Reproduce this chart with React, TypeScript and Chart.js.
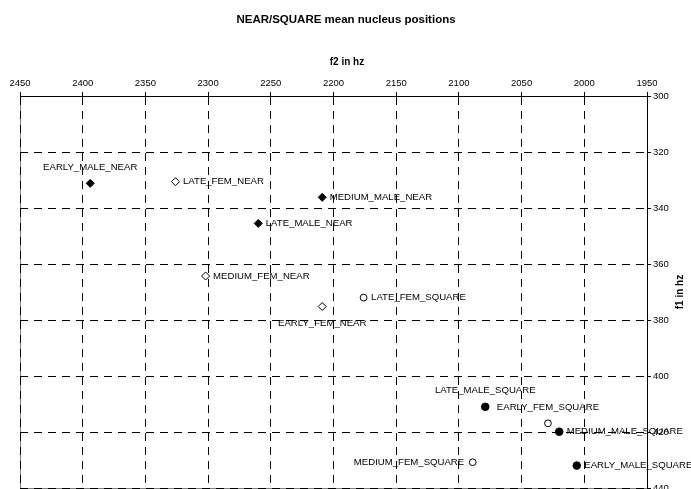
import React, { useEffect, useRef } from "react";
import { Chart, registerables } from "chart.js";

Chart.register(...registerables);

const chartTitle = "NEAR/SQUARE mean nucleus positions";
const xTitle = "f2 in hz";
const yTitle = "f1 in hz";

const pointNames = [
  "EARLY_MALE_NEAR",
  "LATE_FEM_NEAR",
  "MEDIUM_MALE_NEAR",
  "LATE_MALE_NEAR",
  "MEDIUM_FEM_NEAR",
  "EARLY_FEM_NEAR",
  "LATE_FEM_SQUARE",
  "LATE_MALE_SQUARE",
  "EARLY_FEM_SQUARE",
  "MEDIUM_MALE_SQUARE",
  "MEDIUM_FEM_SQUARE",
  "EARLY_MALE_SQUARE",
];
const f2Values = [2394, 2326, 2209, 2260, 2302, 2209, 2176, 2079, 2029, 2020, 2089, 2006];
const f1Values = [331.2, 330.6, 336.2, 345.5, 364.3, 375.2, 372.0, 411.0, 416.9, 419.9, 430.8, 432.0];
const labelPlacement = [
  "above", "right", "right", "right", "right", "below",
  "right", "above", "above", "right", "left", "right",
];

const f2Ticks = [2450, 2400, 2350, 2300, 2250, 2200, 2150, 2100, 2050, 2000, 1950];
const f1Ticks = [300, 320, 340, 360, 380, 400, 420, 440];

const FONT = "'Liberation Sans', Arial, sans-serif";

const decorPlugin = {
  id: "decor",
  beforeDraw(chart: any) {
    const { ctx, chartArea } = chart;
    ctx.save();
    ctx.strokeStyle = "#808080";
    ctx.lineWidth = 1;
    ctx.strokeRect(
      Math.round(chartArea.left) + 0.5,
      Math.round(chartArea.top) + 0.5,
      Math.round(chartArea.right - chartArea.left),
      Math.round(chartArea.bottom - chartArea.top)
    );
    ctx.restore();
  },
  afterDatasetsDraw(chart: any) {
    const { ctx } = chart;
    const meta = chart.getDatasetMeta(0);
    ctx.save();
    ctx.fillStyle = "#000";
    ctx.font = `9.6px ${FONT}`;
    ctx.textBaseline = "middle";
    meta.data.forEach((el: any, i: number) => {
      const { x, y } = el;
      const name = pointNames[i];
      const place = labelPlacement[i];
      if (place === "right") {
        ctx.textAlign = "left";
        ctx.fillText(name, x + 7.5, y);
      } else if (place === "left") {
        ctx.textAlign = "right";
        ctx.fillText(name, x - 8.5, y);
      } else if (place === "above") {
        ctx.textAlign = "center";
        ctx.fillText(name, x, y - 16);
      } else {
        ctx.textAlign = "center";
        ctx.fillText(name, x, y + 17);
      }
    });
    ctx.restore();
  },
  afterDraw(chart: any) {
    const { ctx, chartArea } = chart;
    ctx.save();
    ctx.fillStyle = "#000";
    ctx.textAlign = "center";
    ctx.textBaseline = "middle";
    ctx.font = `bold 11.5px ${FONT}`;
    ctx.fillText(chartTitle, 346, 20);
    ctx.font = `bold 10px ${FONT}`;
    ctx.fillText(xTitle, 347, 62);
    ctx.translate(680, (chartArea.top + chartArea.bottom) / 2);
    ctx.rotate(-Math.PI / 2);
    ctx.fillText(yTitle, 0, 0);
    ctx.restore();
  },
};

export default function App() {
  const canvasRef = useRef<HTMLCanvasElement | null>(null);

  useEffect(() => {
    const canvas = canvasRef.current;
    if (!canvas) return;
    const data = f2Values.map((v, i) => ({ x: v, y: f1Values[i] }));
    const isNear = (i: number) => pointNames[i].includes("NEAR");
    const isMale = (i: number) => pointNames[i].includes("MALE") && !pointNames[i].includes("FEM");

    const chart = new Chart(canvas, {
      type: "scatter",
      data: {
        datasets: [
          {
            data,
            pointStyle: (c: any) => (isNear(c.dataIndex) ? "rectRot" : "circle"),
            backgroundColor: (c: any) => (isMale(c.dataIndex) ? "#000" : "#fff"),
            borderColor: "#000",
            borderWidth: 1,
            pointRadius: (c: any) =>
              isNear(c.dataIndex) ? 4 : isMale(c.dataIndex) ? 3.8 : 3.4,
          } as any,
        ],
      },
      options: {
        responsive: false,
        animation: false,
        events: [],
        layout: { padding: { top: 80, left: 20, right: 0, bottom: 12 } },
        plugins: {
          legend: { display: false },
          tooltip: { enabled: false },
          title: { display: false },
        },
        scales: {
          x: {
            type: "linear",
            position: "top",
            reverse: true,
            min: 1950,
            max: 2450,
            afterBuildTicks: (scale: any) => {
              scale.ticks = f2Ticks.map((v) => ({ value: v }));
            },
            afterFit: (scale: any) => {
              scale.height = 16;
            },
            ticks: {
              callback: (v: any) => String(v),
              color: "#000",
              font: { family: FONT, size: 9.5 },
              padding: 3,
              maxRotation: 0,
              autoSkip: false,
            },
            grid: {
              color: "#000",
              lineWidth: 1,
              drawTicks: true,
              tickLength: 4,
              tickColor: "#000",
            },
            border: { display: true, color: "#000", width: 1, dash: [8, 6] },
          },
          y: {
            type: "linear",
            position: "right",
            reverse: true,
            min: 300,
            max: 440,
            afterBuildTicks: (scale: any) => {
              scale.ticks = f1Ticks.map((v) => ({ value: v }));
            },
            afterFit: (scale: any) => {
              scale.width = 44;
            },
            ticks: {
              callback: (v: any) => String(v),
              color: "#000",
              font: { family: FONT, size: 9.5 },
              padding: 2,
              autoSkip: false,
            },
            grid: {
              color: "#000",
              lineWidth: 1,
              drawTicks: true,
              tickLength: 4,
              tickColor: "#000",
            },
            border: { display: true, color: "#000", width: 1, dash: [8, 6] },
          },
        },
      } as any,
      plugins: [decorPlugin],
    });
    return () => chart.destroy();
  }, []);

  return (
    <div
      style={{
        position: "fixed",
        left: 0,
        top: 0,
        width: 691,
        height: 489,
        overflow: "hidden",
        background: "#fff",
      }}
    >
      <canvas ref={canvasRef} width={691} height={500} style={{ display: "block" }} />
    </div>
  );
}
